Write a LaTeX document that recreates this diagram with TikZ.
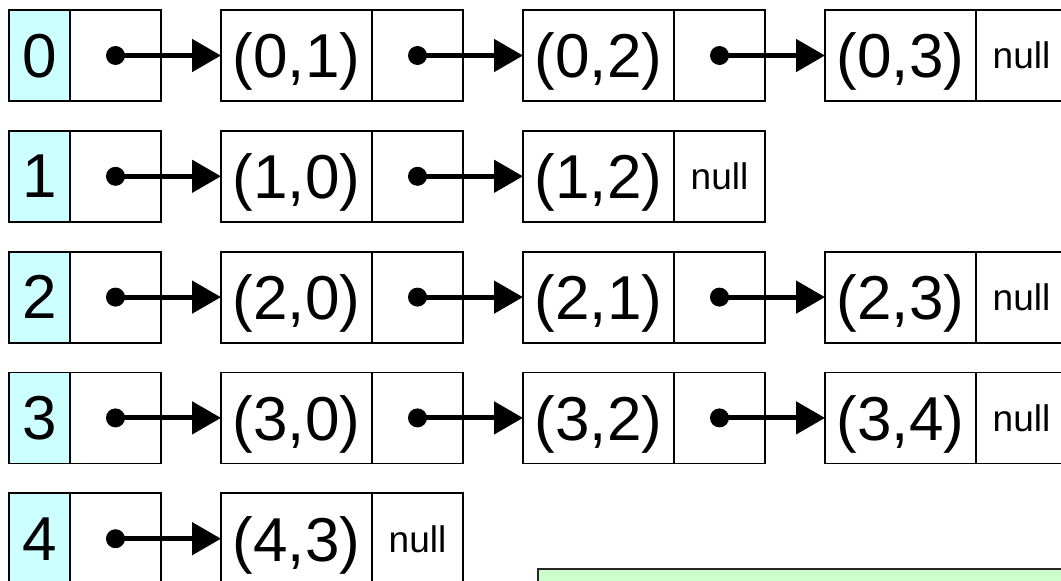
\documentclass[tikz,border=0pt]{standalone}
\usepackage{fontspec}
\setmainfont{Liberation Sans}
\usetikzlibrary{positioning,arrows.meta}
\definecolor{idxcyan}{HTML}{CCFFFF}
\definecolor{notegreen}{HTML}{CCFFCC}
\tikzset{
	cell/.style={draw, line width=1.8pt, inner sep=0pt, outer sep=0pt, minimum height=91pt, text depth=0pt, font=\fontsize{62}{66}\selectfont},
	idxcell/.style={cell, fill=idxcyan, minimum width=61pt, anchor=north west},
	ptrcell/.style={cell, minimum width=91pt},
	valcell/.style={cell, minimum width=151pt},
	nullcell/.style={ptrcell, font=\fontsize{37}{40}\selectfont},
	link/.style={line width=5pt, -{Triangle[length=29pt,width=32pt]}},
	dot/.style={circle, fill=black, inner sep=0pt, minimum size=19pt},
	notebox/.style={draw=black!85, line width=2.5pt, fill=notegreen}
}
\begin{document}
\begin{tikzpicture}[x=1pt,y=1pt]
		\useasboundingbox (0,0) rectangle (1061,-581);
		\clip (0,0) rectangle (1061,-581);
		%Index column with the head pointers
		\foreach \r in {0,...,4} {
			\node [idxcell] (i\r) at (9,{-10-120.8*\r}) {\r};
			\node [ptrcell, right=0pt of i\r] (p\r) {};
		}
		%Row 0
		\node [valcell, right=60pt of p0] (v01) {(0,1)};
		\node [ptrcell, right=0pt of v01] (p01) {};
		\node [valcell, right=60pt of p01] (v02) {(0,2)};
		\node [ptrcell, right=0pt of v02] (p02) {};
		\node [valcell, right=60pt of p02] (v03) {(0,3)};
		\node [nullcell, right=0pt of v03] (n03) {null};
		\draw [link] (p0.center) node [dot] {} -- (v01.west);
		\draw [link] (p01.center) node [dot] {} -- (v02.west);
		\draw [link] (p02.center) node [dot] {} -- (v03.west);
		%Row 1
		\node [valcell, right=60pt of p1] (v10) {(1,0)};
		\node [ptrcell, right=0pt of v10] (p10) {};
		\node [valcell, right=60pt of p10] (v12) {(1,2)};
		\node [nullcell, right=0pt of v12] (n12) {null};
		\draw [link] (p1.center) node [dot] {} -- (v10.west);
		\draw [link] (p10.center) node [dot] {} -- (v12.west);
		%Row 2
		\node [valcell, right=60pt of p2] (v20) {(2,0)};
		\node [ptrcell, right=0pt of v20] (p20) {};
		\node [valcell, right=60pt of p20] (v21) {(2,1)};
		\node [ptrcell, right=0pt of v21] (p21) {};
		\node [valcell, right=60pt of p21] (v23) {(2,3)};
		\node [nullcell, right=0pt of v23] (n23) {null};
		\draw [link] (p2.center) node [dot] {} -- (v20.west);
		\draw [link] (p20.center) node [dot] {} -- (v21.west);
		\draw [link] (p21.center) node [dot] {} -- (v23.west);
		%Row 3
		\node [valcell, right=60pt of p3] (v30) {(3,0)};
		\node [ptrcell, right=0pt of v30] (p30) {};
		\node [valcell, right=60pt of p30] (v32) {(3,2)};
		\node [ptrcell, right=0pt of v32] (p32) {};
		\node [valcell, right=60pt of p32] (v34) {(3,4)};
		\node [nullcell, right=0pt of v34] (n34) {null};
		\draw [link] (p3.center) node [dot] {} -- (v30.west);
		\draw [link] (p30.center) node [dot] {} -- (v32.west);
		\draw [link] (p32.center) node [dot] {} -- (v34.west);
		%Row 4
		\node [valcell, right=60pt of p4] (v43) {(4,3)};
		\node [nullcell, right=0pt of v43] (n43) {null};
		\draw [link] (p4.center) node [dot] {} -- (v43.west);
		%Green box at the bottom, cut off
		\draw [notebox] (538,-569) rectangle (1100,-620);
\end{tikzpicture}
\end{document}
